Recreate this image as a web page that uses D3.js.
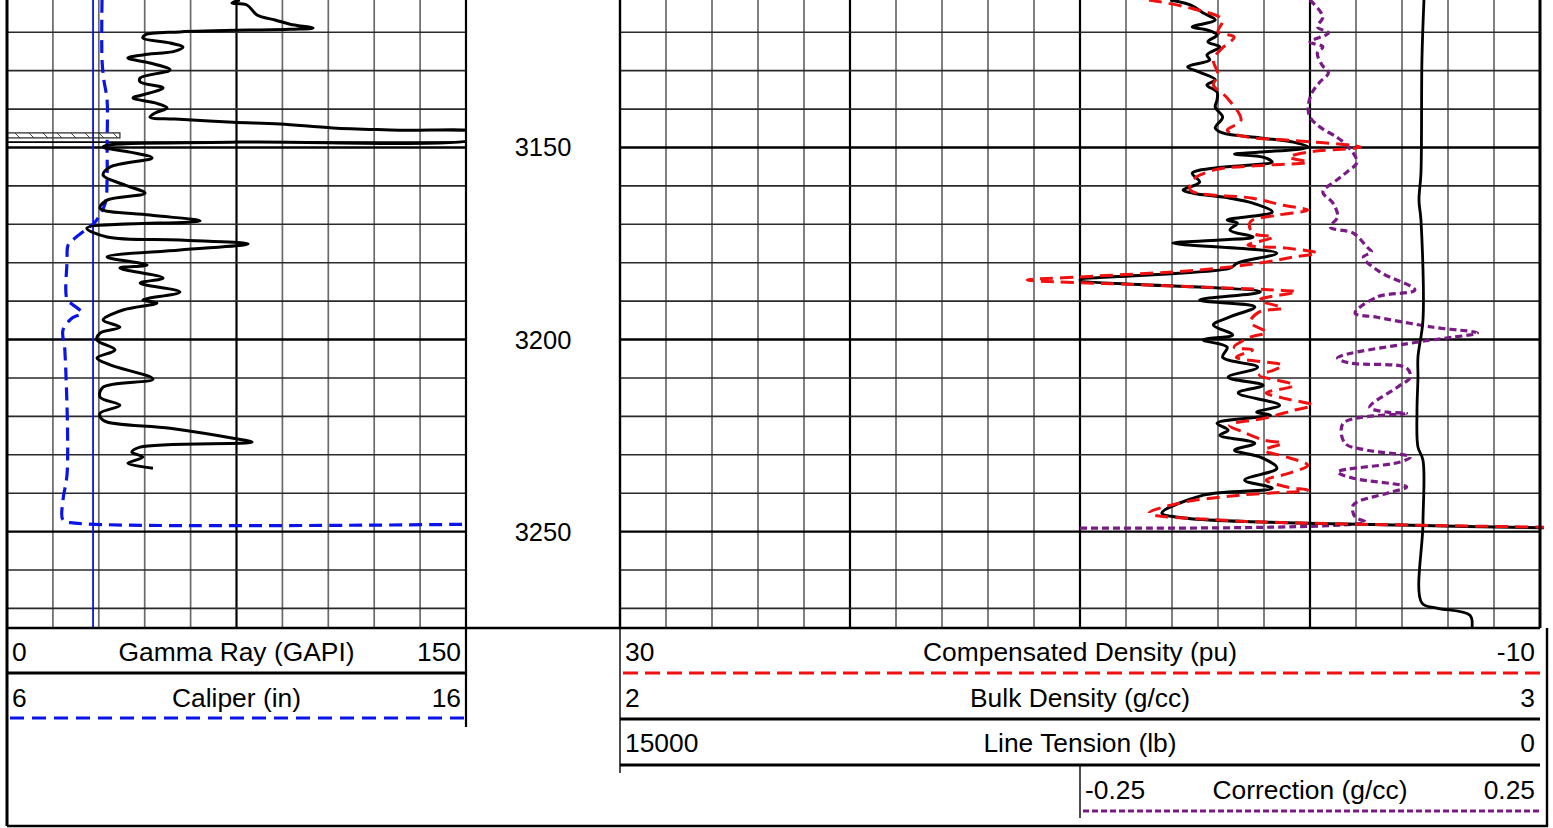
<!DOCTYPE html>
<html>
<head>
<meta charset="utf-8">
<script src="https://cdn.jsdelivr.net/npm/d3@7"></script>
<style>
body { margin: 0; background: #fff; }
text { font-family: Arial, 'Liberation Sans', sans-serif; fill: #000; }
</style>
</head>
<body>
<div id="log"></div>
<script>
'use strict';

// ---- curve data (depth in ft, value in curve units) ----
const grDepth = [3111.6, 3112.4, 3112.9, 3115.5, 3116.8, 3117.9, 3118.9, 3119.2, 3119.9, 3120.7,
    3121.5, 3122.8, 3123.8, 3124.9, 3125.9, 3126.7, 3128.0, 3129.8, 3131.9, 3132.9,
    3134.5, 3135.8, 3137.1, 3138.4, 3139.7, 3141.0, 3142.1, 3142.6, 3143.4, 3143.9,
    3144.9, 3145.5, 3146.2, 3147.5, 3148.6, 3149.4, 3149.9, 3151.2, 3152.7, 3155.1,
    3157.2, 3159.8, 3161.9, 3163.7, 3165.8, 3167.6, 3169.1, 3171.0, 3173.3, 3174.1,
    3175.1, 3176.7, 3178.5, 3180.6, 3181.4, 3184.0, 3185.3, 3187.6, 3189.7, 3190.5,
    3192.3, 3194.9, 3196.8, 3198.3, 3200.1, 3202.7, 3204.8, 3206.6, 3210.3, 3212.4,
    3215.0, 3217.1, 3219.2, 3221.0, 3223.1, 3225.7, 3226.7, 3228.0, 3229.3, 3230.6,
    3232.2, 3233.5];
const grValue = [76.1, 73.5, 78.4, 81.7, 87.6, 92.5, 100.0, 92.5, 56.5, 45.1,
    44.4, 53.3, 57.5, 54.9, 44.4, 39.5, 46.7, 53.3, 43.5, 43.5,
    51.0, 46.7, 41.2, 48.4, 52.3, 48.4, 46.7, 54.9, 73.9, 89.2,
    106.5, 128.4, 154.6, 154.6, 76.1, 32.7, 31.4, 40.2, 47.4, 33.7,
    31.4, 38.6, 45.1, 32.7, 30.4, 46.7, 63.1, 26.1, 32.7, 56.5,
    78.8, 56.5, 32.7, 45.8, 36.9, 51.0, 43.5, 56.5, 44.4, 49.0,
    37.9, 31.4, 36.9, 30.4, 29.4, 35.3, 29.4, 33.7, 47.7, 31.4,
    30.4, 36.9, 30.4, 31.4, 53.3, 73.9, 80.1, 43.5, 40.8, 44.4,
    39.5, 47.7];

const calDepth = [3111.6, 3127.2, 3132.4, 3137.6, 3149.4, 3158.5, 3164.5, 3169.4, 3171.0, 3173.6,
    3175.4, 3179.3, 3189.7, 3190.8, 3193.1, 3194.4, 3197.5, 3202.7, 3234.8, 3241.8,
    3247.0, 3247.8, 3248.1];
const calValue = [8.07, 8.07, 8.11, 8.18, 8.18, 8.18, 8.14, 7.92, 7.76, 7.48,
    7.33, 7.31, 7.31, 7.42, 7.63, 7.42, 7.22, 7.26, 7.31, 7.22,
    7.22, 7.48, 16.0];

const rhobDepth = [3111.6, 3112.9, 3115.0, 3116.8, 3118.6, 3119.4, 3120.7, 3122.5, 3123.8, 3125.9,
    3127.2, 3129.0, 3130.4, 3132.4, 3133.7, 3135.6, 3137.6, 3139.5, 3142.1, 3144.9,
    3146.2, 3147.5, 3148.6, 3149.9, 3151.2, 3151.7, 3152.5, 3153.8, 3154.6, 3155.4,
    3156.7, 3159.0, 3161.1, 3161.9, 3163.2, 3164.5, 3166.8, 3168.9, 3169.7, 3171.5,
    3173.3, 3174.1, 3174.9, 3177.5, 3180.1, 3181.4, 3184.5, 3187.6, 3189.7, 3191.5,
    3194.1, 3196.2, 3198.8, 3200.1, 3202.0, 3204.6, 3207.2, 3209.8, 3211.9, 3213.9,
    3217.1, 3218.9, 3219.7, 3221.8, 3223.6, 3224.9, 3227.0, 3228.8, 3230.6, 3233.5,
    3236.6, 3238.7, 3240.5, 3245.2, 3246.5, 3247.5, 3248.3, 3249.1];
const rhobValue = [2.598, 2.620, 2.634, 2.647, 2.622, 2.638, 2.649, 2.639, 2.652, 2.638,
    2.641, 2.617, 2.630, 2.647, 2.638, 2.649, 2.649, 2.647, 2.655, 2.647,
    2.655, 2.696, 2.732, 2.748, 2.696, 2.668, 2.699, 2.709, 2.682, 2.645,
    2.622, 2.630, 2.612, 2.623, 2.663, 2.688, 2.709, 2.660, 2.671, 2.663,
    2.688, 2.652, 2.601, 2.714, 2.671, 2.663, 2.500, 2.696, 2.630, 2.690,
    2.663, 2.645, 2.666, 2.634, 2.660, 2.655, 2.693, 2.661, 2.699, 2.672,
    2.717, 2.692, 2.707, 2.649, 2.661, 2.652, 2.690, 2.668, 2.696, 2.714,
    2.679, 2.709, 2.634, 2.589, 2.616, 2.699, 2.848, 3.020];

const dphiDepth = [3111.6, 3113.7, 3116.8, 3119.9, 3121.2, 3124.6, 3127.2, 3131.1, 3133.7, 3137.1,
    3142.9, 3145.5, 3147.3, 3148.1, 3149.9, 3151.2, 3152.5, 3153.8, 3154.6, 3155.9,
    3158.5, 3161.1, 3163.2, 3165.0, 3166.3, 3167.6, 3169.4, 3172.3, 3173.3, 3175.4,
    3176.2, 3177.5, 3178.5, 3180.1, 3181.9, 3183.7, 3184.5, 3185.8, 3187.1, 3187.6,
    3189.7, 3191.8, 3192.8, 3195.5, 3198.1, 3199.4, 3202.0, 3202.7, 3204.6, 3206.7,
    3208.0, 3209.3, 3211.9, 3213.9, 3215.2, 3217.1, 3218.4, 3220.4, 3222.3, 3224.1,
    3226.2, 3227.0, 3228.8, 3230.6, 3232.7, 3234.8, 3236.6, 3238.4, 3239.2, 3240.5,
    3242.6, 3245.2, 3247.0, 3247.8, 3248.9];
const dphiValue = [7.0, 5.2, 3.8, 4.0, 3.3, 3.9, 4.2, 4.0, 4.2, 3.6,
    3.0, 3.6, 2.7, 0.9, -2.2, 0.1, 0.9, 0.1, 1.9, 4.2,
    5.1, 5.2, 2.5, 1.2, 0.1, 1.4, 2.6, 2.5, 1.6, 2.7,
    1.0, -0.3, 0.7, 2.2, 4.8, 10.0, 12.3, 7.0, 1.6, 0.6,
    2.2, 1.2, 2.2, 2.6, 1.9, 2.6, 3.3, 2.5, 3.2, 1.2,
    1.6, 2.2, 0.7, 1.9, 1.2, -0.1, 0.7, 1.9, 3.5, 2.9,
    2.0, 1.2, 2.0, 1.0, 0.1, 0.9, 1.9, 1.0, 0.1, 3.0,
    5.7, 7.0, 3.9, 0.1, -10.9];

const tensDepth = [3111.6, 3127.2, 3156.7, 3163.7, 3168.9, 3194.9, 3204.6, 3209.8, 3218.9, 3228.0,
    3231.4, 3247.8, 3268.6, 3269.9, 3271.8, 3275.1];
const tensValue = [1892, 1925, 1941, 1973, 1941, 1908, 1990, 1990, 2006, 1990,
    1908, 1908, 1925, 1680, 1142, 1109];

const corrDepth = [3111.6, 3116.0, 3118.6, 3120.2, 3122.5, 3123.8, 3125.4, 3128.5, 3130.6, 3132.9,
    3135.8, 3139.5, 3142.1, 3144.7, 3147.3, 3149.4, 3153.8, 3156.4, 3158.5, 3161.6,
    3164.5, 3168.1, 3170.7, 3172.3, 3175.9, 3177.2, 3178.5, 3182.4, 3187.1, 3188.9,
    3193.1, 3194.2, 3196.8, 3198.3, 3199.4, 3200.7, 3204.8, 3206.1, 3207.4, 3209.8,
    3212.4, 3217.6, 3218.9, 3219.2, 3221.8, 3227.0, 3228.8, 3230.6, 3231.9, 3234.5,
    3236.1, 3238.4, 3240.0, 3243.1, 3246.2, 3247.5, 3249.1];
const corrValue = [0.000, 0.014, 0.008, 0.020, 0.000, 0.014, 0.008, 0.013, 0.020, 0.011,
    0.002, -0.002, 0.000, 0.011, 0.029, 0.040, 0.051, 0.040, 0.029, 0.014,
    0.025, 0.030, 0.022, 0.047, 0.062, 0.067, 0.058, 0.076, 0.114, 0.073,
    0.049, 0.073, 0.134, 0.182, 0.155, 0.116, 0.030, 0.043, 0.105, 0.109,
    0.095, 0.065, 0.084, 0.105, 0.036, 0.038, 0.062, 0.109, 0.098, 0.030,
    0.047, 0.105, 0.084, 0.047, 0.049, 0.060, -0.250];

const bitSize = 7.875;
const casingTop = 3146.2,
      casingBottom = 3147.5,
      casingSize = 8.46,
      shoeDepth = 3148.6;

const depthRange = [3111.6, 3275.1];
const depthLabels = [3150, 3200, 3250];

const curveNames = ['Gamma Ray (GAPI)', 'Caliper (in)', 'Compensated Density (pu)',
                    'Bulk Density (g/cc)', 'Line Tension (lb)', 'Correction (g/cc)'];
const curveLeft = ['0', '6', '30', '2', '15000', '-0.25'];
const curveRight = ['150', '16', '-10', '3', '0', '0.25'];

// ---- layout ----
const width = 1553, height = 828;
const trackTop = 0, trackBottom = 628;
const leftX = [7, 466], depthX = [466, 620], rightX = [620, 1540], rightMid = 1080;
const frameRight = 1547, frameBottom = 826;

const colors = {'gr': '#000000', 'cal': '#0a14e6', 'rhob': '#000000', 'dphi': '#f01010',
                'tens': '#000000', 'corr': '#7a1a86'};

var svg = d3.select('#log')
            .append('svg')
            .attr('width', width)
            .attr('height', height);

let yScale = d3.scaleLinear().domain(depthRange).range([trackTop, trackBottom]);
let grScale = d3.scaleLinear().domain([0, 150]).range(leftX);
let calScale = d3.scaleLinear().domain([6, 16]).range(leftX);
let rhobScale = d3.scaleLinear().domain([2, 3]).range(rightX);
let dphiScale = d3.scaleLinear().domain([30, -10]).range(rightX);
let tensScale = d3.scaleLinear().domain([15000, 0]).range(rightX);
let corrScale = d3.scaleLinear().domain([-0.25, 0.25]).range([rightMid, rightX[1]]);
let leftGrid = d3.scaleLinear().domain([0, 10]).range(leftX);
let rightGrid = d3.scaleLinear().domain([0, 20]).range(rightX);

let defs = svg.append('defs');
defs.append('clipPath').attr('id', 'clip-left')
    .append('rect')
    .attr('x', leftX[0]).attr('y', trackTop)
    .attr('width', leftX[1] - leftX[0]).attr('height', trackBottom - trackTop);
defs.append('clipPath').attr('id', 'clip-right')
    .append('rect')
    .attr('x', rightX[0]).attr('y', trackTop)
    .attr('width', rightX[1] - rightX[0] + 4).attr('height', trackBottom - trackTop);
let hatch = defs.append('pattern')
                .attr('id', 'hatch')
                .attr('patternUnits', 'userSpaceOnUse')
                .attr('width', 14).attr('height', 6);
hatch.append('path')
     .attr('d', 'M0,0 L6,6')
     .attr('stroke', '#444')
     .attr('stroke-width', 1);

// ---- grid ----
let grid = svg.append('g').attr('id', 'grid');
let gridDepths = d3.range(3120, depthRange[1], 10);

function drawGrid(xScale, n, major) {
    for (let i = 1; i < n; i++) {
        grid.append('line')
            .attr('x1', xScale(i)).attr('x2', xScale(i))
            .attr('y1', trackTop).attr('y2', trackBottom)
            .attr('stroke', i % major == 0 ? '#000' : '#6a6a6a')
            .attr('stroke-width', i % major == 0 ? 2.2 : 1.7);
    }
    gridDepths.forEach(function(d) {
        grid.append('line')
            .attr('x1', xScale(0)).attr('x2', xScale(n))
            .attr('y1', yScale(d)).attr('y2', yScale(d))
            .attr('stroke', d % 50 == 0 ? '#000' : '#2a2a2a')
            .attr('stroke-width', d % 50 == 0 ? 2.4 : 1.6);
    });
}
drawGrid(leftGrid, 10, 5);
drawGrid(rightGrid, 20, 5);

// depth labels
svg.append('g')
   .selectAll('text')
   .data(depthLabels)
   .join('text')
   .attr('x', (depthX[0] + depthX[1]) / 2)
   .attr('y', d => yScale(d) + 9)
   .attr('text-anchor', 'middle')
   .attr('font-size', 25.5)
   .text(d => d);

// ---- curves ----
function curve(depths, values, xScale) {
    return d3.line()
             .x(d => xScale(d[1]))
             .y(d => yScale(d[0]))
             .curve(d3.curveCatmullRom.alpha(0.5))(d3.zip(depths, values));
}

let leftG = svg.append('g').attr('clip-path', 'url(#clip-left)');

leftG.append('line')
     .attr('x1', calScale(bitSize)).attr('x2', calScale(bitSize))
     .attr('y1', trackTop).attr('y2', trackBottom)
     .attr('stroke', colors.cal)
     .attr('stroke-width', 1.8);

leftG.append('rect')
     .attr('x', calScale(6)).attr('y', yScale(casingTop))
     .attr('width', calScale(casingSize) - calScale(6))
     .attr('height', yScale(casingBottom) - yScale(casingTop))
     .attr('fill', 'url(#hatch)')
     .attr('stroke', '#222')
     .attr('stroke-width', 1.2);
leftG.append('line')
     .attr('x1', leftX[0]).attr('x2', leftX[1])
     .attr('y1', yScale(shoeDepth)).attr('y2', yScale(shoeDepth))
     .attr('stroke', '#000')
     .attr('stroke-width', 1.6);

leftG.append('path')
     .attr('d', curve(calDepth, calValue, calScale))
     .attr('fill', 'none')
     .attr('stroke', colors.cal)
     .attr('stroke-width', 3.2)
     .attr('stroke-dasharray', '13,7');
leftG.append('path')
     .attr('d', curve(grDepth, grValue, grScale))
     .attr('fill', 'none')
     .attr('stroke', colors.gr)
     .attr('stroke-width', 3)
     .attr('stroke-linejoin', 'round');

let rightG = svg.append('g').attr('clip-path', 'url(#clip-right)');
rightG.append('path')
      .attr('d', curve(corrDepth, corrValue, corrScale))
      .attr('fill', 'none')
      .attr('stroke', colors.corr)
      .attr('stroke-width', 3.2)
      .attr('stroke-dasharray', '7,4');
rightG.append('path')
      .attr('d', curve(tensDepth, tensValue, tensScale))
      .attr('fill', 'none')
      .attr('stroke', colors.tens)
      .attr('stroke-width', 2.8);
rightG.append('path')
      .attr('d', curve(rhobDepth, rhobValue, rhobScale))
      .attr('fill', 'none')
      .attr('stroke', colors.rhob)
      .attr('stroke-width', 3)
      .attr('stroke-linejoin', 'round');
rightG.append('path')
      .attr('d', curve(dphiDepth, dphiValue, dphiScale))
      .attr('fill', 'none')
      .attr('stroke', colors.dphi)
      .attr('stroke-width', 3)
      .attr('stroke-dasharray', '13,7');

// ---- borders ----
let borders = svg.append('g').attr('stroke', '#000').attr('fill', 'none');
borders.append('line').attr('x1', leftX[0]).attr('x2', leftX[0])
       .attr('y1', 0).attr('y2', frameBottom).attr('stroke-width', 3);
borders.append('line').attr('x1', leftX[1]).attr('x2', leftX[1])
       .attr('y1', 0).attr('y2', 727).attr('stroke-width', 2.2);
borders.append('line').attr('x1', rightX[0]).attr('x2', rightX[0])
       .attr('y1', 0).attr('y2', trackBottom).attr('stroke-width', 2.4);
borders.append('line').attr('x1', rightX[0]).attr('x2', rightX[0])
       .attr('y1', trackBottom).attr('y2', 773).attr('stroke-width', 1.4);
borders.append('line').attr('x1', rightX[1]).attr('x2', rightX[1])
       .attr('y1', 0).attr('y2', trackBottom).attr('stroke-width', 3);
borders.append('line').attr('x1', leftX[0]).attr('x2', rightX[1])
       .attr('y1', trackBottom).attr('y2', trackBottom).attr('stroke-width', 2.4);
borders.append('line').attr('x1', rightMid).attr('x2', rightMid)
       .attr('y1', 765).attr('y2', 818).attr('stroke-width', 1.4);
borders.append('path')
       .attr('d', 'M' + leftX[0] + ',' + frameBottom + 'H' + frameRight + 'V' + trackBottom)
       .attr('stroke-width', 2.4);

// ---- headers ----
let headerRows = [
    {'i': 0, 'x0': leftX[0], 'x1': leftX[1], 'base': 661, 'line': 673, 'color': colors.gr, 'dash': null, 'w': 3.2},
    {'i': 1, 'x0': leftX[0], 'x1': leftX[1], 'base': 707, 'line': 718, 'color': colors.cal, 'dash': '14,8', 'w': 3},
    {'i': 2, 'x0': rightX[0], 'x1': rightX[1], 'base': 661, 'line': 673, 'color': colors.dphi, 'dash': '15,7', 'w': 3},
    {'i': 3, 'x0': rightX[0], 'x1': rightX[1], 'base': 707, 'line': 719, 'color': colors.rhob, 'dash': null, 'w': 3.2},
    {'i': 4, 'x0': rightX[0], 'x1': rightX[1], 'base': 752, 'line': 765, 'color': colors.tens, 'dash': null, 'w': 3.2},
    {'i': 5, 'x0': rightMid, 'x1': rightX[1], 'base': 799, 'line': 811, 'color': colors.corr, 'dash': '6,3', 'w': 3}
];
let header = svg.append('g').attr('font-size', 26.4);
headerRows.forEach(function(r) {
    header.append('text').attr('x', r.x0 + 5).attr('y', r.base).text(curveLeft[r.i]);
    header.append('text').attr('x', (r.x0 + r.x1) / 2).attr('y', r.base)
          .attr('text-anchor', 'middle').text(curveNames[r.i]);
    header.append('text').attr('x', r.x1 - 5).attr('y', r.base)
          .attr('text-anchor', 'end').text(curveRight[r.i]);
    header.append('line')
          .attr('x1', r.x0 + (r.dash ? 3 : 0)).attr('x2', r.x1)
          .attr('y1', r.line).attr('y2', r.line)
          .attr('stroke', r.color)
          .attr('stroke-width', r.w)
          .attr('stroke-dasharray', r.dash);
});
</script>
</body>
</html>
